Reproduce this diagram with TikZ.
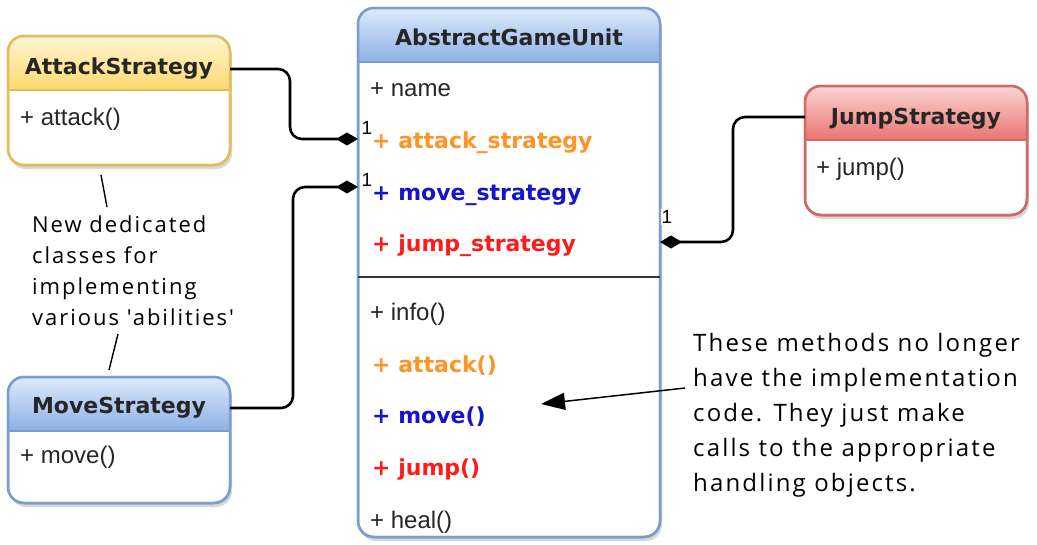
\documentclass[tikz,border=0pt]{standalone}
\usepackage{fontspec}
\setmainfont{Liberation Sans}
\newfontfamily\djv{DejaVu Sans}
\newfontfamily\hand{Open Sans}[LetterSpace=9]
\usetikzlibrary{shadows,arrows.meta,fit}
\definecolor{yelline}{HTML}{E0BE5A}
\definecolor{yeltop}{HTML}{FFF5D2}
\definecolor{yelbot}{HTML}{FFD970}
\definecolor{blueline}{HTML}{7D9DCC}
\definecolor{bluetop}{HTML}{DDEAFC}
\definecolor{bluebot}{HTML}{8DB0E4}
\definecolor{redline}{HTML}{D06A66}
\definecolor{redtop}{HTML}{FAD6D4}
\definecolor{redbot}{HTML}{EA7470}
\definecolor{orangetxt}{HTML}{FF9326}
\definecolor{bluetxt}{HTML}{1414CC}
\definecolor{redtxt}{HTML}{FF1A1A}
\tikzset{
  umlframe/.style={rounded corners=16pt, fill=white, inner sep=0pt, line width=2.5pt,
    drop shadow={opacity=0.3, shadow xshift=2pt, shadow yshift=-4pt}},
  titletext/.style={font=\djv\bfseries\fontsize{22}{22}\selectfont, text=black!85, inner sep=0pt, anchor=base},
  item/.style={font=\fontsize{24}{24}\selectfont, text=black!85, inner sep=0pt, anchor=base west},
  bitem/.style={font=\djv\bfseries\fontsize{22}{22}\selectfont, inner sep=0pt, anchor=base west},
  conn/.style={line width=2.6pt, rounded corners=12pt, -{Diamond[length=22pt,width=13pt]}},
  mult/.style={font=\fontsize{19}{19}\selectfont, inner sep=1pt},
  note/.style={font=\hand, align=left, inner sep=0pt, anchor=north west},
  noteline/.style={line width=1.4pt}
}
\newcommand\umlbox[8]{%
  \node[umlframe, draw=#7line, fit={(#2,#3) (#4,#5)}] (#1) {};
  \begin{scope}
    \clip[rounded corners=16pt] (#2,#3) rectangle (#4,#5);
    \shade[top color=#7top, bottom color=#7bot] (#2,#3) rectangle (#4,#6);
  \end{scope}
  \draw[#7line, line width=1.6pt] (#2,#6) -- (#4,#6);
  \draw[#7line, line width=2.5pt, rounded corners=16pt] (#2,#3) rectangle (#4,#5);
}
\begin{document}
\begin{tikzpicture}[x=1pt,y=-1pt]
\useasboundingbox[fill=white] (0,0) rectangle (1037,544);

% classes
\umlbox{atk}{8}{36}{230}{165}{90}{yel}{}
\node[titletext] (atk-title) at (119,74) {AttackStrategy};
\node[item] (atk-m1) at (20,125) {+ attack()};

\umlbox{mov}{8}{377}{230}{503}{431}{blue}{}
\node[titletext] (mov-title) at (119,413) {MoveStrategy};
\node[item] (mov-m1) at (20,463) {+ move()};

\umlbox{jmp}{805}{86}{1027}{215}{140}{red}{}
\node[titletext] (jmp-title) at (916,124) {JumpStrategy};
\node[item] (jmp-m1) at (816,175) {+ jump()};

\umlbox{agu}{358}{8}{660}{537}{62}{blue}{}
\node[titletext] (agu-title) at (509,45) {AbstractGameUnit};
\node[item] (agu-a1) at (370,96) {+ name};
\node[bitem, text=orangetxt] (agu-a2) at (372,148) {+ attack\_strategy};
\node[bitem, text=bluetxt] (agu-a3) at (372,200) {+ move\_strategy};
\node[bitem, text=redtxt] (agu-a4) at (372,251) {+ jump\_strategy};
\draw[line width=1.5pt, black!80] (358,277) -- (660,277);
\node[item] (agu-m1) at (370,320) {+ info()};
\node[bitem, text=orangetxt] (agu-m2) at (372,372) {+ attack()};
\node[bitem, text=bluetxt] (agu-m3) at (372,423) {+ move()};
\node[bitem, text=redtxt] (agu-m4) at (372,475) {+ jump()};
\node[item] (agu-m5) at (370,528) {+ heal()};

% ports
\coordinate (atk-port) at (230,69);
\coordinate (mov-port) at (230,408);
\coordinate (jmp-port) at (805,117);
\coordinate (agu-atk) at (358,139);
\coordinate (agu-mov) at (358,187);
\coordinate (agu-jmp) at (660,242);

\draw[conn] (atk-port) -- (290,69) -- (290,139) -- (agu-atk);
\draw[conn] (mov-port) -- (293,408) -- (293,187) -- (agu-mov);
\draw[conn] (jmp-port) -- (733,117) -- (733,242) -- (agu-jmp);
\node[mult] (m-atk) at (367,128) {1};
\node[mult] (m-mov) at (367,180) {1};
\node[mult, fill=white] (m-jmp) at (667,217) {1};

% notes
\node[note, font=\hand\fontsize{22}{31}\selectfont] (note1) at (32,216)
  {New dedicated\\classes for\\implementing\\various 'abilities'};
\coordinate (n1a) at (101,175);
\coordinate (n1b) at (107,207);
\coordinate (n1c) at (118,334);
\coordinate (n1d) at (109,370);
\draw[noteline] (n1a) -- (n1b);
\draw[noteline] (n1c) -- (n1d);

\node[note, font=\hand\fontsize{24}{35}\selectfont] (note2) at (693,333)
  {These methods no longer\\have the implementation\\code. They just make\\calls to the appropriate\\handling objects.};
\coordinate (n2a) at (685,388);
\coordinate (n2b) at (541,404);
\draw[line width=1.5pt, -{Triangle[length=24pt,width=17pt]}] (n2a) -- (n2b);
\end{tikzpicture}
\end{document}
